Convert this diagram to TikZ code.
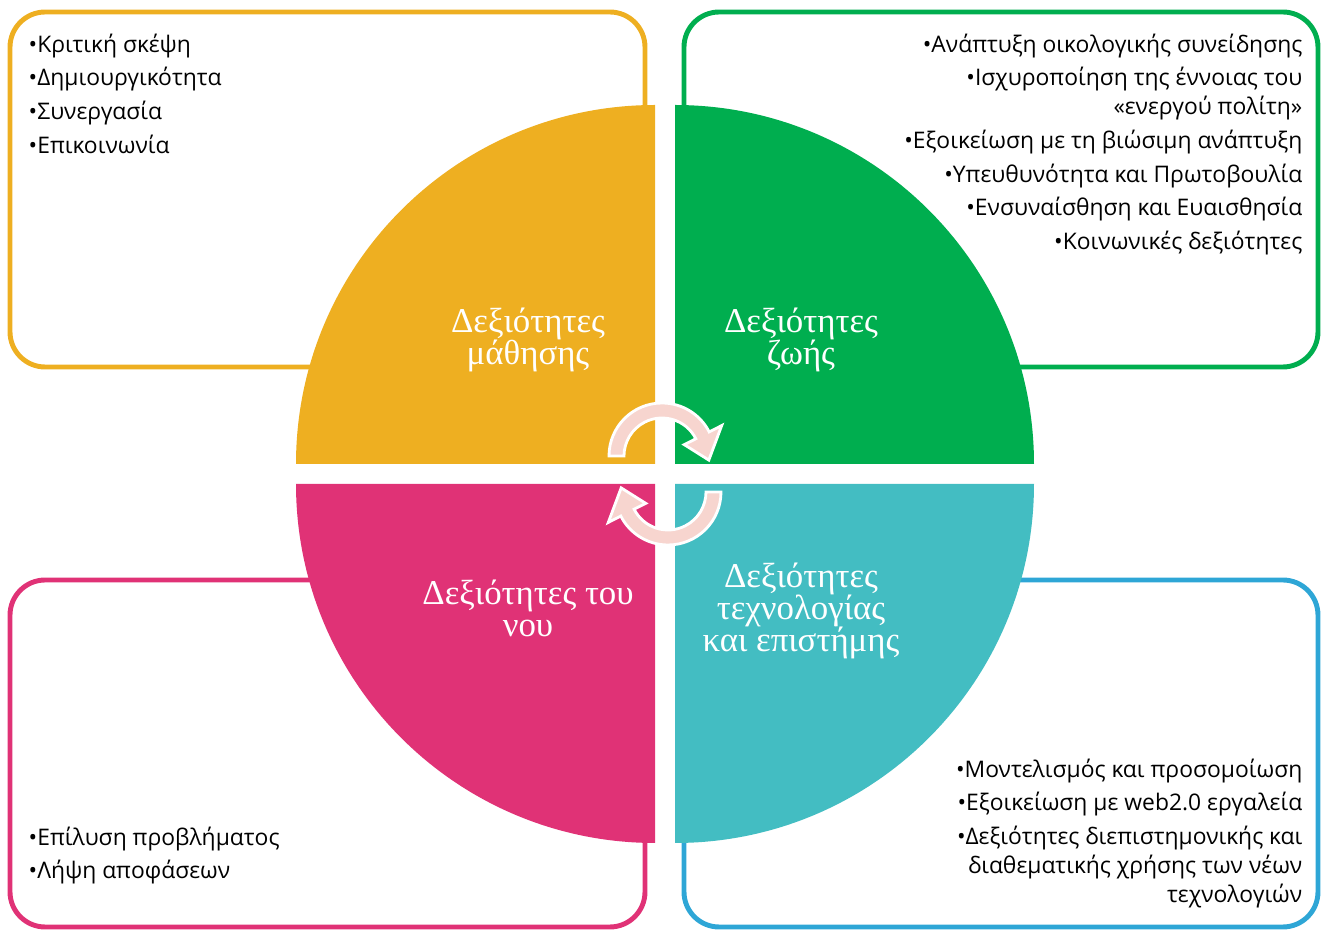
\documentclass[tikz,border=0pt]{standalone}
\usepackage{fontspec}
\setmainfont{Liberation Serif}
\newfontfamily\listfont{Open Sans}
\definecolor{learnyellow}{HTML}{EEAF21}
\definecolor{lifegreen}{HTML}{00AE4F}
\definecolor{mindpink}{HTML}{E03276}
\definecolor{techteal}{HTML}{43BDC2}
\definecolor{techblue}{HTML}{2EA6D6}
\definecolor{arrowpink}{HTML}{F7D5CF}
\begin{document}
\begin{tikzpicture}[x=0.01cm, y=0.01cm,
    box/.style={line width=1.4pt, rounded corners=10pt},
    title/.style={text=white, align=center, inner sep=0pt, font=\fontsize{9.9}{9.1}\selectfont},
    items/.style={inner sep=0pt, font=\listfont\fontsize{6.5}{9.6}\selectfont},
    cyclearrow/.style={fill=arrowpink, draw=white, line width=0.8pt, line join=miter}]
    \useasboundingbox (0,0) rectangle (1329,933);
    % outer boxes
    \draw[box, learnyellow] (10,566) rectangle (645,921);
    \draw[box, lifegreen] (684,566) rectangle (1318,921);
    \draw[box, mindpink] (10,6) rectangle (645,353);
    \draw[box, techblue] (684,6) rectangle (1318,353);
    % four quarters of the circle
    \fill[learnyellow] (655,469) -- (296,469) arc[start angle=180, end angle=90, radius=359] -- cycle;
    \fill[lifegreen] (675,469) -- (675,828) arc[start angle=90, end angle=0, radius=359] -- cycle;
    \fill[mindpink] (655,449) -- (296,449) arc[start angle=180, end angle=270, radius=359] -- cycle;
    \fill[techteal] (675,449) -- (1034,449) arc[start angle=0, end angle=-90, radius=359] -- cycle;
    % the two turning arrows
    \foreach \turn in {0,180}{
        \begin{scope}[rotate around={\turn:(665,459)}, shift={(662,477)}]
            \filldraw[cyclearrow] (180:53) arc[start angle=180, end angle=27, radius=53]
                -- (27:67) -- (-5:47) -- (27:25) -- (27:38)
                arc[start angle=27, end angle=180, radius=38] -- cycle;
        \end{scope}
    }
    % titles
    \node[title] (learn) at (528,593) {Δεξιότητες\\μάθησης};
    \node[title] (life) at (801,593) {Δεξιότητες\\ζωής};
    \node[title] (mind) at (528,325) {Δεξιότητες του\\νου};
    \node[title] (tech) at (801,322) {Δεξιότητες\\τεχνολογίας\\και επιστήμης};
    % lists
    \node[items, anchor=north west, align=left] (learnlist) at (28,900)
        {•Κριτική σκέψη\\•Δημιουργικότητα\\•Συνεργασία\\•Επικοινωνία};
    \node[items, anchor=north east, align=right] (lifelist) at (1303,900)
        {•Ανάπτυξη οικολογικής συνείδησης\\
         •Ισχυροποίηση της έννοιας του\\[-1.4pt]«ενεργού πολίτη»\\
         •Εξοικείωση με τη βιώσιμη ανάπτυξη\\
         •Υπευθυνότητα και Πρωτοβουλία\\
         •Ενσυναίσθηση και Ευαισθησία\\
         •Κοινωνικές δεξιότητες};
    \node[items, anchor=north west, align=left] (mindlist) at (28,107)
        {•Επίλυση προβλήματος\\•Λήψη αποφάσεων};
    \node[items, anchor=north east, align=right] (techlist) at (1303,175)
        {•Μοντελισμός και προσομοίωση\\
         •Εξοικείωση με web2.0 εργαλεία\\
         •Δεξιότητες διεπιστημονικής και\\[-1.4pt]διαθεματικής χρήσης των νέων\\[-1.4pt]τεχνολογιών};
\end{tikzpicture}
\end{document}
